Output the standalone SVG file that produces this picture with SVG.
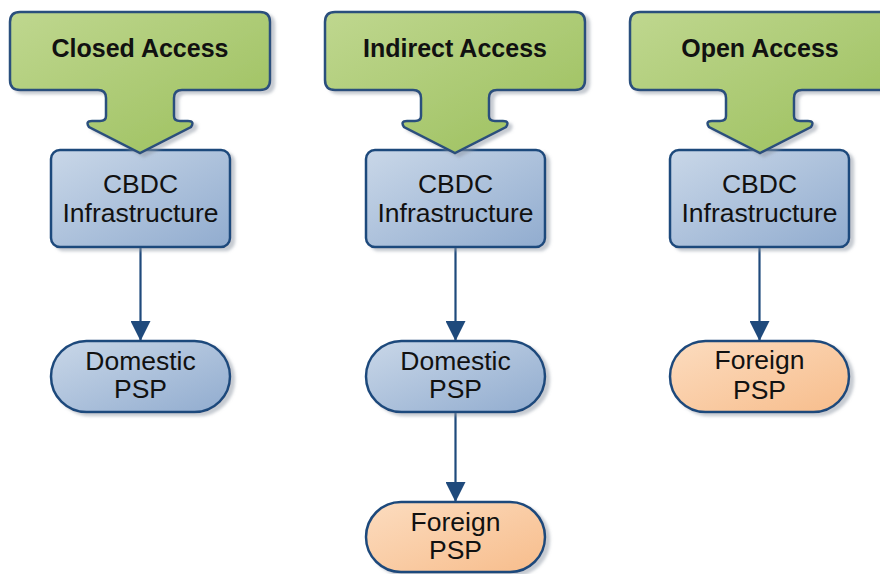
<svg xmlns="http://www.w3.org/2000/svg" xmlns:xlink="http://www.w3.org/1999/xlink" width="880" height="574" viewBox="0 0 880 574">
<defs>
<linearGradient id="gGreen" x1="0" y1="0" x2="1" y2="1"><stop offset="0" stop-color="#bfd78f"/><stop offset="1" stop-color="#9bbf5c"/></linearGradient>
<linearGradient id="gBlue" x1="0" y1="0" x2="1" y2="1"><stop offset="0" stop-color="#c9d7e8"/><stop offset="1" stop-color="#91accf"/></linearGradient>
<linearGradient id="gOrange" x1="0" y1="0" x2="1" y2="1"><stop offset="0" stop-color="#fcdcbf"/><stop offset="1" stop-color="#f7bd8c"/></linearGradient>
<filter id="sh" x="-10%" y="-10%" width="125%" height="130%"><feDropShadow dx="4" dy="3" stdDeviation="1.5" flood-color="#8c96a3" flood-opacity="0.5"/></filter>
<path id="access" d="M -120,12 H 120 Q 130,12 130,22 V 80 Q 130,90 120,90 H 42 Q 34,90 34,98 V 116 Q 34,121 40,121 H 48 Q 55,121 51,127 L 0,153 L -51,127 Q -55,121 -48,121 H -40 Q -34,121 -34,116 V 98 Q -34,90 -42,90 H -120 Q -130,90 -130,80 V 22 Q -130,12 -120,12 Z"/>
<marker id="ah" markerWidth="20" markerHeight="20" viewBox="0 0 20 20" refX="20" refY="10" orient="auto" markerUnits="userSpaceOnUse"><path d="M0,0 L20,10 L0,20 Z" fill="#1f4a7c"/></marker>
</defs>
<style>
.acc{fill:url(#gGreen);stroke:#2b4f7d;stroke-width:2.5;filter:url(#sh)}
.box{fill:url(#gBlue);stroke:#1f4a7c;stroke-width:2.5;filter:url(#sh)}
.obox{fill:url(#gOrange);stroke:#1f4a7c;stroke-width:2.5;filter:url(#sh)}
.t{font-family:"Liberation Sans",Arial,sans-serif;font-size:26.5px;fill:#111;text-anchor:middle}
.h{font-family:"Liberation Sans",Arial,sans-serif;font-size:25px;font-weight:bold;fill:#111;text-anchor:middle}
.c{stroke:#1f4a7c;stroke-width:2.2;fill:none;marker-end:url(#ah)}
</style>
<g id="connectors">
<line class="c" x1="140.5" y1="248" x2="140.5" y2="341"/>
<line class="c" x1="455.5" y1="248" x2="455.5" y2="341"/>
<line class="c" x1="455.5" y1="413" x2="455.5" y2="502"/>
<line class="c" x1="759.5" y1="248" x2="759.5" y2="341"/>
</g>
<g id="cbdc1"><rect class="box" x="51" y="150" width="179" height="97" rx="9"/><text class="t" x="140.5" y="193">CBDC</text><text class="t" x="140.5" y="222">Infrastructure</text></g>
<g id="cbdc2"><rect class="box" x="366" y="150" width="179" height="97" rx="9"/><text class="t" x="455.5" y="193">CBDC</text><text class="t" x="455.5" y="222">Infrastructure</text></g>
<g id="cbdc3"><rect class="box" x="670" y="150" width="179" height="97" rx="9"/><text class="t" x="759.5" y="193">CBDC</text><text class="t" x="759.5" y="222">Infrastructure</text></g>
<g id="closed"><use xlink:href="#access" href="#access" class="acc" transform="translate(140,0)"/><text class="h" x="140" y="57">Closed Access</text></g>
<g id="indirect"><use xlink:href="#access" href="#access" class="acc" transform="translate(455,0)"/><text class="h" x="455" y="57">Indirect Access</text></g>
<g id="open"><use xlink:href="#access" href="#access" class="acc" transform="translate(760,0)"/><text class="h" x="760" y="57">Open Access</text></g>
<g id="dom1"><rect class="box" x="51" y="341" width="179" height="71" rx="35.5"/><text class="t" x="140.5" y="370">Domestic</text><text class="t" x="140.5" y="398">PSP</text></g>
<g id="dom2"><rect class="box" x="366" y="341" width="179" height="71" rx="35.5"/><text class="t" x="455.5" y="370">Domestic</text><text class="t" x="455.5" y="398">PSP</text></g>
<g id="for2"><rect class="obox" x="366" y="502" width="179" height="70" rx="35"/><text class="t" x="455.5" y="531">Foreign</text><text class="t" x="455.5" y="559">PSP</text></g>
<g id="for3"><rect class="obox" x="670" y="341" width="179" height="71" rx="35.5"/><text class="t" x="759.5" y="369">Foreign</text><text class="t" x="759.5" y="399">PSP</text></g>
</svg>
